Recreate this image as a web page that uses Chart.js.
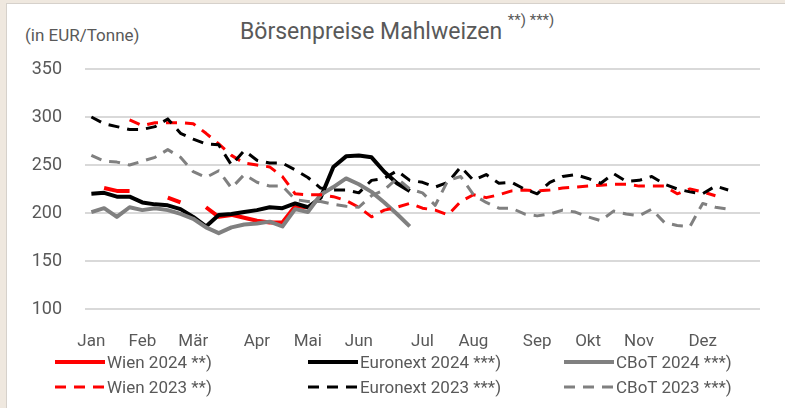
<!DOCTYPE html>
<html>
<head>
<meta charset="utf-8">
<script src="https://cdn.jsdelivr.net/npm/chart.js@4"></script>
<style>
  html, body { margin: 0; padding: 0; }
  body { width: 785px; height: 408px; overflow: hidden; background: #efe8df; position: relative; font-family: Roboto, sans-serif; color: #595959; }
  .panel { position: absolute; left: 6px; top: 3px; width: 800px; height: 420px; background: #fff; border: 1px solid #d6d1cb; }
  canvas { position: absolute; left: 0; top: 0; }
  .title { position: absolute; left: 240px; top: 18px; font-size: 23px; line-height: 28px; white-space: nowrap; }
  .title sup { font-size: 15px; position: relative; top: -5px; vertical-align: top; line-height: 15px; }
  .unit { position: absolute; left: 25px; top: 25px; font-size: 17px; line-height: 20px; white-space: nowrap; }
  .leg { position: absolute; display: flex; align-items: center; font-size: 17px; line-height: 18px; white-space: nowrap; }
  .leg svg { margin-right: 2px; }
</style>
</head>
<body>
<div class="panel"></div>
<div class="unit">(in EUR/Tonne)</div>
<div class="title">Börsenpreise Mahlweizen <sup>**) ***)</sup></div>
<canvas id="chart" width="785" height="408"></canvas>
<div id="legend"></div>
<script>
// weekly category axis, month name on the first week of each month
const weekLabels = [
  'Jan','','','', 'Feb','','','', 'Mär','','','','', 'Apr','','','', 'Mai','','','',
  'Jun','','','','', 'Jul','','','', 'Aug','','','','', 'Sep','','','', 'Okt','','','',
  'Nov','','','','', 'Dez','','','',''
];
const yTicks = [100, 150, 200, 250, 300, 350];

// EUR/Tonne, one value per week (null = no quotation)
const wien2024 = [null, 226, 223, 223, null, null, 216, 211, null, 206, 196, 198, 195, 192, 190, 190, 207, 206];
const euronext2024 = [220, 221, 217, 217, 211, 209, 208, 204, 196, 186, 198, 199, 201, 203, 206, 205, 210, 206,
  216, 248, 259, 260, 258, 243, 231, 223];
const cbot2024 = [201, 205, 196, 206, 203, 205, 203, 199, 194, 185, 179, 185, 188, 189, 191, 186, 204, 201,
  219, 227, 236, 230, 222, 211, 199, 186];

const wien2023 = [null, null, null, 297, 291, 294, 294, 294, 293, 283, 272, 260, 252, 250, 248, 238, 220, 219,
  219, 217, 213, 206, 196, 203, 206, 210, 205, 203, 198, 212, 219, 216, 219, 223, 224, 223, 224, 226,
  227, 228, 229, 230, 230, 228, 228, 228, 220, 225, 222, 218];
const euronext2023 = [300, 293, 290, 287, 287, 290, 298, 283, 277, 272, 271, 250, 265, 255, 252, 252, 245, 237,
  226, 224, 224, 221, 234, 236, 244, 234, 232, 227, 232, 248, 234, 240, 231, 232, 225, 220, 232, 238,
  240, 236, 231, 241, 233, 234, 238, 230, 225, 222, 220, 228, 224];
const cbot2023 = [260, 254, 253, 250, 254, 258, 266, 258, 243, 237, 244, 226, 240, 232, 228, 228, 214, 212,
  212, 209, 207, 206, 218, 224, 236, 225, 221, 208, 234, 238, 219, 211, 205, 205, 199, 197, 199, 203,
  201, 196, 192, 202, 199, 197, 204, 190, 187, 186, 210, 206, 204];

const RED = '#ff0000', BLACK = '#000000', GREY = '#808080';
const DASH = [11, 8];

const series = [
  { label: 'Wien 2024 **)',      data: wien2024,     color: RED,   dash: [],   width: 4, order: 6 },
  { label: 'Euronext 2024 ***)', data: euronext2024, color: BLACK, dash: [],   width: 4, order: 5 },
  { label: 'CBoT 2024 ***)',     data: cbot2024,     color: GREY,  dash: [],   width: 4, order: 4 },
  { label: 'Wien 2023 **)',      data: wien2023,     color: RED,   dash: DASH, width: 3, order: 3 },
  { label: 'Euronext 2023 ***)', data: euronext2023, color: BLACK, dash: DASH, width: 3, order: 2 },
  { label: 'CBoT 2023 ***)',     data: cbot2023,     color: GREY,  dash: DASH, width: 3, order: 1 }
];

new Chart(document.getElementById('chart'), {
  type: 'line',
  data: {
    labels: weekLabels,
    datasets: series.map(s => ({
      label: s.label,
      data: s.data,
      borderColor: s.color,
      backgroundColor: s.color,
      borderWidth: s.width,
      borderDash: s.dash,
      borderCapStyle: 'butt',
      borderJoinStyle: 'round',
      pointRadius: 0,
      tension: 0,
      spanGaps: false,
      order: s.order
    }))
  },
  options: {
    responsive: false,
    animation: false,
    devicePixelRatio: 1,
    layout: { padding: { left: 0, right: 25, top: 69, bottom: 59 } },
    plugins: { legend: { display: false }, tooltip: { enabled: false } },
    scales: {
      x: {
        offset: true,
        grid: { display: false },
        border: { display: false },
        afterFit: s => { s.height = 40; },
        ticks: { autoSkip: false, maxRotation: 0, padding: 15, color: '#595959',
                 font: { family: 'Roboto', size: 17 } }
      },
      y: {
        min: 100, max: 350,
        afterFit: s => { s.width = 85; },
        afterBuildTicks: s => { s.ticks = yTicks.map(v => ({ value: v })); },
        grid: { color: '#d9d9d9', lineWidth: 2, drawTicks: false },
        border: { display: false },
        ticks: { padding: 23, color: '#595959', font: { family: 'Roboto', size: 18 } }
      }
    }
  }
});

// legend: 2024 series in the first row, 2023 series in the second
const legCols = [55, 308, 564];
const legRows = [362, 387];
const legend = document.getElementById('legend');
series.forEach((s, i) => {
  const el = document.createElement('div');
  el.className = 'leg';
  el.style.left = legCols[i % 3] + 'px';
  el.style.top = (legRows[Math.floor(i / 3)] - 9) + 'px';
  el.innerHTML = '<svg width="50" height="8"><line x1="0" y1="4" x2="50" y2="4" stroke="' + s.color +
    '" stroke-width="' + s.width + '" stroke-dasharray="' + (s.dash.length ? s.dash.join(' ') : 'none') +
    '"/></svg><span>' + s.label + '</span>';
  legend.appendChild(el);
});
</script>
</body>
</html>
